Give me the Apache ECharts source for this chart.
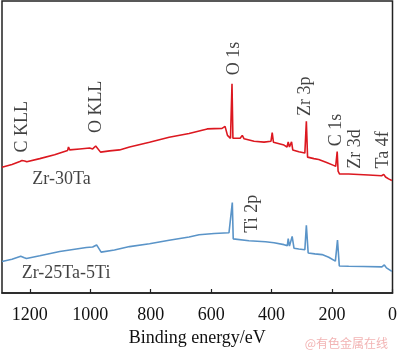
<!DOCTYPE html>
<html>
<head>
<meta charset="utf-8">
<script src="https://cdn.jsdelivr.net/npm/echarts@6/dist/echarts.min.js"></script>
<style>
  html, body { margin: 0; padding: 0; background: #fff; }
  #chart { width: 400px; height: 352px; }
</style>
</head>
<body>
<div id="chart"></div>
<script>
// binding energy (eV) and intensity (arb. units)
const redEnergy = [1292, 1259, 1233, 1226, 1222, 1217, 1210, 1167, 1118, 1075, 1072, 1068, 1035, 1002, 992, 982, 976, 966, 936, 903, 870, 804, 739, 673, 613, 590, 564, 554, 546, 536, 531, 528, 524, 504, 497, 491, 458, 425, 402, 398, 394, 359, 349, 345, 341, 334, 330, 310, 290, 285, 281, 260, 244, 218, 195, 188, 183, 180, 175, 145, 112, 79, 36, 29, 23, 13, 2];
const redCounts = [130, 133, 136, 137, 139, 136.5, 135.7, 139, 143, 147.5, 151, 148, 149, 150, 149, 152, 150.5, 145.7, 147, 148, 151, 156, 161, 165, 169.7, 170, 170.3, 172.3, 163, 160, 216.5, 160, 159, 160, 163, 159.5, 157, 156, 157, 166, 156, 153, 151, 156.3, 151, 156.3, 148, 146, 144.7, 177.5, 140.5, 139, 138, 135, 132, 131, 146.3, 126, 123, 123, 122.5, 122, 121.3, 122.7, 120, 118, 116.3];

const blueEnergy = [1292, 1259, 1230, 1224, 1218, 1211, 1167, 1101, 1035, 1013, 992, 979, 975, 964, 920, 870, 804, 739, 673, 640, 590, 541, 536, 530, 527, 524, 475, 420, 392, 359, 348, 345, 341, 332, 326, 310, 290, 285, 279, 257, 233, 211, 189, 182, 176, 145, 96, 35, 27, 20, 2];
const blueCounts = [32.5, 35, 38, 39, 36.5, 35.7, 38.5, 43, 46, 47, 47.5, 49.7, 49.7, 42.3, 44.5, 48, 51, 54.5, 58, 60.3, 61.5, 62.3, 61, 93.5, 56, 54.7, 54, 53, 52, 50, 49, 56.3, 48.5, 58.5, 46.3, 45.5, 44.7, 70, 41.3, 40.5, 39.7, 37, 33, 54.7, 28, 27.7, 27.4, 27, 29, 26, 22.3];

// peak labels (rotated) and sample names
const peakNames = ['C KLL', 'O KLL', 'O 1s', 'Zr 3p', 'C 1s', 'Zr 3d', 'Ta 4f', 'Ti 2p'];
const peakEnergy = [1226, 981, 524, 287, 185, 122, 30, 465];
const peakHeight = [172, 192.5, 242.5, 203.5, 168.5, 149, 148, 82];

const sampleNames = ['Zr-30Ta', 'Zr-25Ta-5Ti'];
const sampleEnergy = [1095, 1080];
const sampleHeight = [118, 20];

const xTicks = [0, 200, 400, 600, 800, 1000, 1200];

const serif = "'Liberation Serif', 'Times New Roman', serif";

const chart = echarts.init(document.getElementById('chart'));

function pairs(xs, ys) {
    return xs.map((x, i) => [x, ys[i]]);
}

chart.setOption({
    animation: false,
    grid: {
        left: 2,
        right: 6,
        top: 1,
        bottom: 49,
        show: true,
        borderColor: '#222',
        borderWidth: 1.5
    },
    xAxis: {
        type: 'value',
        inverse: true,
        min: 0,
        max: 1292,
        interval: 200,
        name: 'Binding energy/eV',
        nameLocation: 'middle',
        nameGap: 36,
        nameTextStyle: { fontFamily: serif, fontSize: 18, color: '#111' },
        axisLine: { lineStyle: { color: '#222', width: 1.5 } },
        axisTick: { inside: true, length: 4, lineStyle: { color: '#222', width: 1.2 } },
        axisLabel: {
            fontFamily: serif, fontSize: 18, color: '#111', margin: 13,
            showMaxLabel: false,
            formatter: v => xTicks.includes(v) ? String(v) : ''
        },
        splitLine: { show: false }
    },
    yAxis: {
        type: 'value',
        min: 0,
        max: 302,
        show: false
    },
    series: [
        {
            type: 'line',
            data: pairs(redEnergy, redCounts),
            showSymbol: false,
            lineStyle: { color: '#dc1820', width: 1.6 }
        },
        {
            type: 'line',
            data: pairs(blueEnergy, blueCounts),
            showSymbol: false,
            lineStyle: { color: '#5a94c8', width: 1.6 }
        },
        {
            type: 'scatter',
            symbolSize: 0,
            data: peakNames.map((n, i) => ({ name: n, value: [peakEnergy[i], peakHeight[i]] })),
            label: {
                show: true,
                position: 'inside',
                rotate: 90,
                formatter: p => p.name,
                fontFamily: serif,
                fontSize: 18,
                color: '#111'
            },
            silent: true
        },
        {
            type: 'scatter',
            symbolSize: 0,
            data: sampleNames.map((n, i) => ({ name: n, value: [sampleEnergy[i], sampleHeight[i]] })),
            label: {
                show: true,
                position: 'inside',
                formatter: p => p.name,
                fontFamily: serif,
                fontSize: 18,
                color: '#111'
            },
            silent: true
        }
    ],
    graphic: [{
        type: 'text',
        right: 12,
        bottom: 3,
        style: {
            text: '@有色金属在线',
            fill: '#f2b4b4',
            font: "12px 'Noto Sans CJK SC', sans-serif"
        },
        silent: true
    }]
});
</script>
</body>
</html>
